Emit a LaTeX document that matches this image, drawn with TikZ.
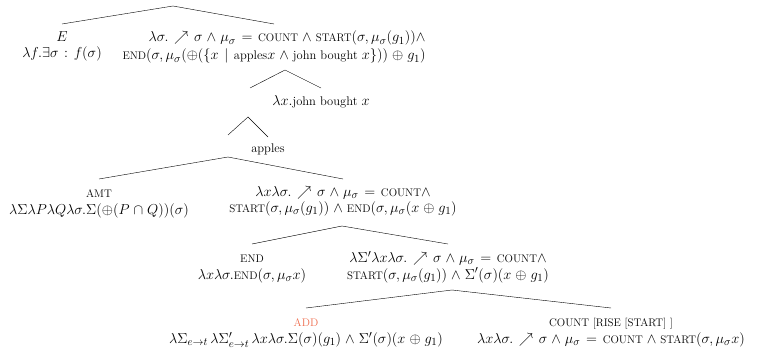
\documentclass[tikz,border=0pt]{standalone}
\usepackage{amsmath}
\definecolor{addorange}{RGB}{238,108,77}
\newcommand{\capw}[1]{\text{\fontsize{11}{10}\selectfont #1}}
\newcommand{\wrd}[1]{\text{\fontsize{12.5}{10}\selectfont #1}}
\thickmuskip=7mu plus 3mu
\medmuskip=5mu plus 2mu
\tikzset{lbl/.style={anchor=north,align=center,inner xsep=1pt,inner ysep=7pt,
    font=\fontsize{15}{16.5}\selectfont}}

\begin{document}
\begin{tikzpicture}[x=1pt,y=-1pt]
  \useasboundingbox (0,0) rectangle (757,350);
  \coordinate (top) at (173,6);
  \coordinate (vpApex) at (285,70);
  \coordinate (dp) at (250,88);
  \coordinate (dpApex) at (248,117);
  \coordinate (amtP) at (228,135);
  \coordinate (amtApex) at (228,157);
  \coordinate (countApex) at (342,226);
  \coordinate (addApex) at (452,290);
  \node[lbl] (ex) at (62,24) {$E$\\ $\lambda f.\exists\sigma : f(\sigma)$};
  \node[lbl,align=right,font=\fontsize{15}{18}\selectfont] (vp) at (274,24)
    {$\lambda\sigma.\nearrow\sigma\wedge\mu_\sigma=\capw{COUNT}\wedge\capw{START}(\sigma,\mu_\sigma(g_1))\wedge$\\
     $\capw{END}(\sigma,\mu_\sigma(\oplus(\{x\mid\wrd{apples}x\wedge\wrd{john bought }x\}))\oplus g_1)$};
  \node[lbl] (john) at (321,88) {$\lambda x.\wrd{john bought }x$};
  \node[lbl] (apples) at (268,137) {\wrd{apples}};
  \node[lbl] (amt) at (99,179) {\strut\capw{AMT}\\
    $\lambda\Sigma\lambda P\lambda Q\lambda\sigma.\Sigma(\oplus(P\cap Q))(\sigma)$};
  \node[lbl] (cnt) at (343,179)
    {$\lambda x\lambda\sigma.\nearrow\sigma\wedge\mu_\sigma=\capw{COUNT}\wedge$\\
     $\capw{START}(\sigma,\mu_\sigma(g_1))\wedge\capw{END}(\sigma,\mu_\sigma(x\oplus g_1)$};
  \node[lbl] (end) at (252,244) {\strut\capw{END}\\ $\lambda x\lambda\sigma.\capw{END}(\sigma,\mu_\sigma x)$};
  \node[lbl] (sig) at (448,244)
    {$\lambda\Sigma'\lambda x\lambda\sigma.\nearrow\sigma\wedge\mu_\sigma=\capw{COUNT}\wedge$\\
     $\capw{START}(\sigma,\mu_\sigma(g_1))\wedge\Sigma'(\sigma)(x\oplus g_1)$};
  \node[lbl] (add) at (306,308) {\strut\textcolor{addorange}{\capw{ADD}}\\
    $\lambda\Sigma_{e\rightarrow t}\,\lambda\Sigma'_{e\rightarrow t}\,\lambda x\lambda\sigma.\Sigma(\sigma)(g_1)\wedge\Sigma'(\sigma)(x\oplus g_1)$};
  \node[lbl] (rise) at (611,308) {\strut\capw{COUNT [RISE [START] ]}\\
    $\lambda x\lambda\sigma.\nearrow\sigma\wedge\mu_\sigma=\capw{COUNT}\wedge\capw{START}(\sigma,\mu_\sigma x)$};
  \draw (ex.north) -- (top) -- (vp.north);
  \draw (dp) -- (vpApex) -- (john.north);
  \draw (amtP) -- (dpApex) -- (apples.north);
  \draw (amt.north) -- (amtApex) -- (cnt.north);
  \draw (end.north) -- (countApex) -- (sig.north);
  \draw (add.north) -- (addApex) -- (rise.north);
\end{tikzpicture}
\end{document}
